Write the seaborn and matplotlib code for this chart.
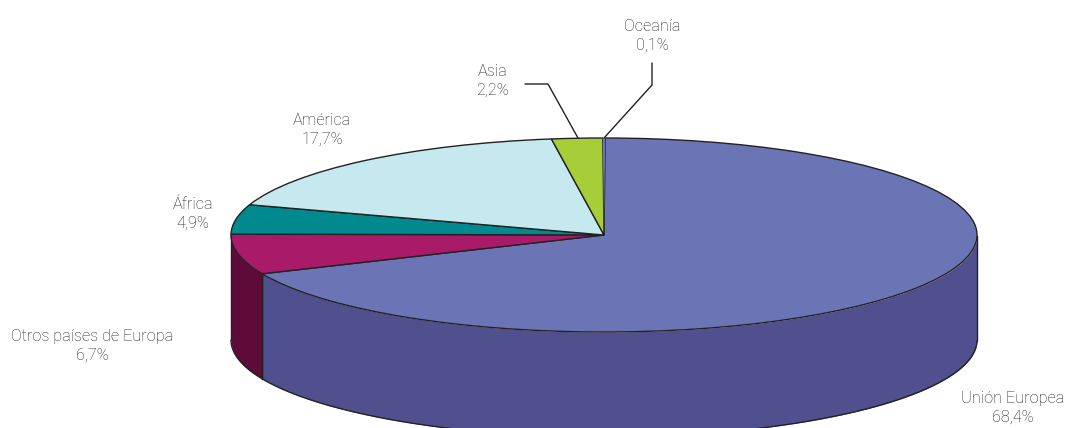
import numpy as np
import matplotlib
matplotlib.use("Agg")
import matplotlib.pyplot as plt
import seaborn as sns

labels = ["Unión Europea", "Otros países de Europa", "África", "América", "Asia", "Oceanía"]
shares = [68.4, 6.7, 4.9, 17.7, 2.2, 0.1]
top_colors = ["#6B75B6", "#A91B68", "#008A8F", "#C6E8EF", "#A6CE39", "#6B75B6"]
wall_colors = ["#50508F", "#5E0B3A", "#005F63", "#8FB0B6", "#76932A", "#50508F"]
label_px = [(1013, 408), (92, 346), (193, 214), (322, 130), (493, 81), (652, 36)]

W, H = 1067, 428
CX, CY, RX, RY, DEPTH = 604, 235, 373, 97, 105
START = 89.82
TEXT = "#1e1e20"
EDGE = "#222222"

sns.set_theme(style="white")
plt.rcParams["font.family"] = ["Roboto", "DejaVu Sans"]

fig = plt.figure(figsize=(W / 100, H / 100), dpi=100, facecolor="white")
ax = fig.add_axes([0, 0, 1, 1])

wedges, _ = ax.pie(shares, colors=top_colors, startangle=START, counterclock=False, radius=1,
                   wedgeprops=dict(edgecolor=EDGE, linewidth=1.0, zorder=3))
wedges[-1].set_edgecolor("none")
ax.set_aspect("auto")
ax.set_xlim(-CX / RX, (W - CX) / RX)
ax.set_ylim((CY - H) / RY, CY / RY)

# side wall of the cylinder, front half only
d = DEPTH / RY
ends = START - np.cumsum(shares) / sum(shares) * 360
starts = np.r_[START, ends[:-1]]
for a_start, a_end, col in zip(starts, ends, wall_colors):
    t = np.radians(np.linspace(a_end, a_start, 300))
    t = t[np.sin(t) <= 0]
    if t.size < 2:
        continue
    ax.fill_between(np.cos(t), np.sin(t), np.sin(t) - d, color=col, lw=0, zorder=1)
    ax.plot(np.cos(t), np.sin(t) - d, color=EDGE, lw=1.0, zorder=2)
    for v in (t[0], t[-1]):
        ax.plot([np.cos(v)] * 2, [np.sin(v), np.sin(v) - d], color=EDGE, lw=1.0, zorder=2)


def to_data(px, py):
    return (px - CX) / RX, (CY - py) / RY


for name, share, (px, py) in zip(labels, shares, label_px):
    x, y = to_data(px, py)
    txt = f"{name}\n{share:.1f}%".replace(".", ",")
    ax.text(x, y, txt, ha="center", va="center", fontsize=11.7, color=TEXT,
            fontweight="light", linespacing=1.28, zorder=5)

for path in ([(525, 84), (548, 84), (578, 138)], [(652, 63), (652, 85), (604, 138)]):
    xs, ys = zip(*[to_data(*p) for p in path])
    sns.lineplot(x=list(xs), y=list(ys), ax=ax, sort=False, estimator=None,
                 color="#222222", lw=1.0, zorder=4)

ax.axis("off")
fig.savefig("out.png", dpi=100)
